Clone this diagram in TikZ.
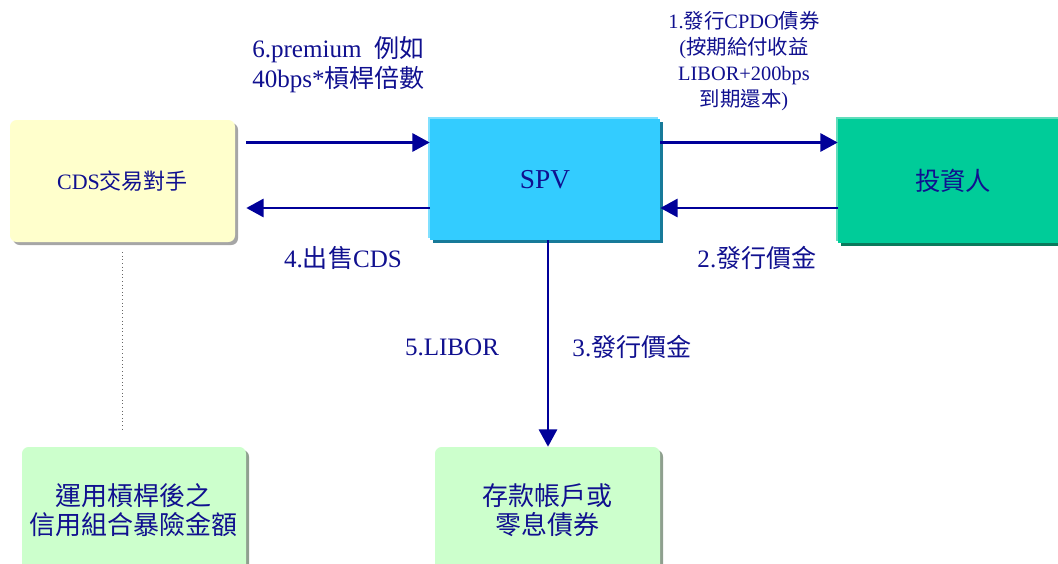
\documentclass[tikz,border=0pt]{standalone}
\usepackage{fontspec}
\setmainfont{Liberation Serif}
\newfontfamily\zhfont{Noto Sans CJK TC}
\newcommand\zt[1]{{\zhfont #1}}
\usetikzlibrary{arrows.meta,calc,shadows}
\definecolor{arrnavy}{HTML}{000099}
\definecolor{txtnavy}{HTML}{10108F}
\definecolor{cdsfill}{HTML}{FFFFCC}
\definecolor{spvfill}{HTML}{33CCFF}
\definecolor{spvlight}{HTML}{80E0FF}
\definecolor{spvdark}{HTML}{177A99}
\definecolor{invfill}{HTML}{00CC99}
\definecolor{invlight}{HTML}{60DDBB}
\definecolor{invdark}{HTML}{0A7A5C}
\definecolor{grnfill}{HTML}{CCFFCC}
\definecolor{grnshadow}{HTML}{8FA08F}
\begin{document}
\begin{tikzpicture}[x=0.75pt,y=-0.75pt,
  box/.style={inner sep=0pt, text=txtnavy, align=center},
  softbox/.style={box, rounded corners=5pt,
    drop shadow={shadow xshift=2.25pt, shadow yshift=-2.25pt, fill=#1, opacity=1}},
  sharpbox/.style n args={2}{box,
    general shadow={shadow xshift=-1.2pt, shadow yshift=1.2pt, fill=#1},
    general shadow={shadow xshift=2.25pt, shadow yshift=-2.25pt, fill=#2}},
  arr/.style={draw=arrnavy, line width=2.2pt, -{Triangle[length=13pt,width=13.5pt]}},
  lbl/.style={text=txtnavy, align=center, inner sep=0pt, font=\fontsize{18.8}{22.5}\selectfont}]
\useasboundingbox (0,0) rectangle (1058,564);

% boxes
\node[softbox=gray!70, fill=cdsfill, minimum width=168.75pt, minimum height=91.5pt,
      font=\fontsize{16.5}{18}\selectfont] (cds) at (122.5,181) {CDS\zt{交易對手}};
\node[sharpbox={spvlight}{spvdark}, fill=spvfill, minimum width=172.5pt, minimum height=90.75pt,
      font=\fontsize{20.5}{22}\selectfont] (spv) at (545,179.5) {SPV};
\node[sharpbox={invlight}{invdark}, fill=invfill, minimum width=172.5pt, minimum height=93pt,
      font=\fontsize{19}{22}\selectfont] (inv) at (953,181) {\zt{投資人}};
\node[softbox=grnshadow, fill=grnfill, minimum width=168pt, minimum height=94.5pt,
      font=\fontsize{19.5}{22}\selectfont] (lev) at (134,510) {\zt{運用槓桿後之}\\\zt{信用組合暴險金額}};
\node[softbox=grnshadow, fill=grnfill, minimum width=168.75pt, minimum height=94.5pt,
      font=\fontsize{19.5}{22}\selectfont] (dep) at (547.5,510) {\zt{存款帳戶或}\\\zt{零息債券}};

% connectors
\draw[arr] ($(cds.east)+(11,-38.5)$) -- ($(spv.west)+(0,-37)$);
\draw[arr] ($(spv.west)+(0,28.5)$) -- ($(cds.east)+(11,27)$);
\draw[arr] ($(spv.east)+(0,-37)$) -- ($(inv.west)+(0,-38.5)$);
\draw[arr] ($(inv.west)+(0,27)$) -- ($(spv.east)+(0,28.5)$);
\coordinate (vtop) at ($(spv.south)+(3,0)$);
\draw[arr] (vtop) -- (vtop |- dep.north);
\coordinate (dtop) at ($(cds.south)+(0,10)$);
\draw[gray!80!black, line width=0.7pt, dotted, shorten >=12pt] (dtop) -- (dtop |- lev.north);

% labels
\node[lbl, align=left, anchor=west] (l6) at (252,65) {6.premium\ \ \zt{例如}\\40bps*\zt{槓桿倍數}};
\node[lbl, font=\fontsize{15.3}{19.5}\selectfont] (l1) at (744,61) {1.\zt{發行}CPDO\zt{債券}\\(\zt{按期給付收益}\\LIBOR+200bps\\\zt{到期還本})};
\node[lbl] (l4) at (343,258) {4.\zt{出售}CDS};
\node[lbl] (l2) at (757,258) {2.\zt{發行價金}};
\node[lbl] (l5) at (452,347) {5.LIBOR};
\node[lbl] (l3) at (632,347) {3.\zt{發行價金}};
\end{tikzpicture}
\end{document}
